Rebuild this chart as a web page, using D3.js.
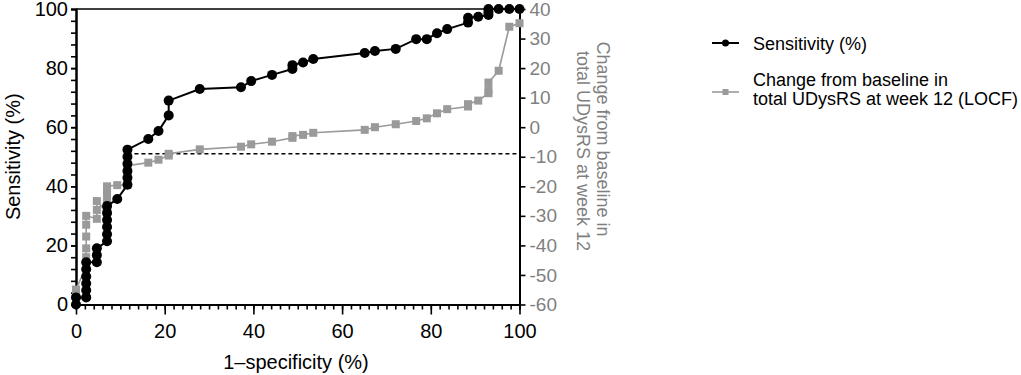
<!DOCTYPE html>
<html>
<head>
<meta charset="utf-8">
<script src="https://cdn.jsdelivr.net/npm/d3@7"></script>
<style>
  body { margin: 0; background: #fff; }
  svg { font-family: "Liberation Sans", Arial, sans-serif; }
</style>
</head>
<body>
<svg id="chart" width="1021" height="375"></svg>
<script>
    // ******************** Data ************************
    // 1-specificity (%) for each cut-off
    var fpr = [0, 0,
        2.3, 2.3, 2.3, 2.3, 2.3, 2.3,
        4.7, 4.7, 4.7,
        7.0, 7.0, 7.0, 7.0, 7.0, 7.0,
        9.3,
        11.6, 11.6, 11.6, 11.6, 11.6, 11.6,
        16.3, 18.6, 20.9, 20.9, 27.9, 37.2, 39.5, 44.2, 48.8, 48.8, 51.2, 53.5,
        65.1, 67.4, 72.1, 76.7, 79.1, 81.4, 83.7, 88.4, 88.4, 90.7,
        93.0, 93.0, 93.0, 95.3, 97.7, 100];

    // Sensitivity (%)
    var sensitivity = [0, 2.4,
        2.4, 4.8, 7.1, 9.5, 11.9, 14.3,
        14.3, 16.7, 19.0,
        21.4, 23.8, 26.2, 28.6, 31.0, 33.3,
        35.7,
        40.5, 42.9, 45.2, 47.6, 50.0, 52.4,
        56.0, 58.7, 64.0, 69.0, 72.9, 73.5, 75.6, 77.7, 79.7, 81.0, 81.9, 83.1,
        85.1, 85.8, 86.5, 89.8, 89.8, 91.8, 93.2, 95.4, 97.0, 97.4,
        98.0, 99.0, 100, 100, 100, 100];

    // Change from baseline in total UDysRS at week 12 (LOCF), cut-off value
    var change = [-55, -55,
        -47, -44, -41, -37, -33, -30,
        -31, -28, -25,
        -29, -27, -25, -23, -21.5, -20,
        -19.6,
        -19.5, -18, -17, -16, -14.5, -13,
        -12, -11, -9.6, -9, -7.5, -6.6, -5.8, -4.9, -3.6, -3, -2.6, -1.9,
        -0.9, 0, 1, 2.1, 3, 4.7, 6.1, 7.0, 7.8, 9,
        11.5, 12.5, 15.1, 19.1, 34, 35.2];

    var cutoff = -9; // dashed reference
    var cutoffFrom = 11.6;

    var xTicks = [0, 20, 40, 60, 80, 100];
    var yLeftTicks = [0, 20, 40, 60, 80, 100];
    var yRightTicks = [-60, -50, -40, -30, -20, -10, 0, 10, 20, 30, 40];

    var legendLabels = ["Sensitivity (%)",
        ["Change from baseline in", "total UDysRS at week 12 (LOCF)"]];

    // ******************** Globals ************************
    var pLeft = 76, pRight = 519.5, pTop = 9, pBottom = 304.5;
    var grey = "#9a9a9a", greyText = "#7f7f7f";

    var x = d3.scaleLinear().domain([0, 100]).range([pLeft, pRight]);
    var yL = d3.scaleLinear().domain([0, 100]).range([pBottom, pTop]);
    var yR = d3.scaleLinear().domain([-60, 40]).range([pBottom, pTop]);

    var svg = d3.select("#chart");
    var rows = fpr.map(function (d, i) {
        return { x: d, s: sensitivity[i], c: change[i] };
    });

    function styleAxis(g, col) {
        g.select(".domain").attr("stroke", "#000").attr("stroke-width", 2);
        g.selectAll(".tick line").attr("stroke", "#000").attr("stroke-width", 1.6);
        g.selectAll(".tick text").attr("fill", col || "#000")
            .style("font-family", "Liberation Sans, Arial, sans-serif");
    }

    // top frame line
    svg.append("line")
        .attr("x1", pLeft).attr("x2", pRight)
        .attr("y1", pTop).attr("y2", pTop)
        .attr("stroke", "#000").attr("stroke-width", 1.6);

    // x axis: minor then major
    svg.append("g")
        .attr("transform", "translate(0," + pBottom + ")")
        .call(d3.axisBottom(x).tickValues(d3.range(0, 101, 2)).tickSize(5).tickFormat(""))
        .call(styleAxis);
    svg.append("g")
        .attr("transform", "translate(0," + pBottom + ")")
        .call(d3.axisBottom(x).tickValues(xTicks).tickSize(10).tickPadding(9).tickSizeOuter(0))
        .call(styleAxis)
        .selectAll(".tick text").style("font-size", "20px");

    // left axis
    svg.append("g")
        .attr("transform", "translate(" + pLeft + ",0)")
        .call(d3.axisLeft(yL).tickValues(d3.range(0, 101, 4)).tickSize(5).tickFormat(""))
        .call(styleAxis);
    svg.append("g")
        .attr("transform", "translate(" + pLeft + ",0)")
        .call(d3.axisLeft(yL).tickValues(yLeftTicks).tickSize(5).tickPadding(3).tickSizeOuter(0))
        .call(styleAxis)
        .selectAll(".tick text").style("font-size", "20px");

    // right axis
    svg.append("g")
        .attr("transform", "translate(" + pRight + ",0)")
        .call(d3.axisRight(yR).tickValues(yRightTicks).tickSize(6).tickPadding(4).tickSizeOuter(0)
            .tickFormat(function (d) { return String(d); }))
        .call(function (g) { styleAxis(g, greyText); })
        .selectAll(".tick text").style("font-size", "19px");

    // axis titles
    svg.append("text")
        .attr("transform", "translate(20," + ((pTop + pBottom) / 2) + ") rotate(-90)")
        .attr("text-anchor", "middle")
        .style("font-size", "20px")
        .text("Sensitivity (%)");

    svg.append("text")
        .attr("x", 296).attr("y", 369)
        .attr("text-anchor", "middle")
        .style("font-size", "20px")
        .text("1\u2013specificity (%)");

    svg.append("text")
        .attr("transform", "translate(597,139) rotate(90)")
        .attr("text-anchor", "middle").attr("fill", greyText)
        .style("font-size", "18px")
        .text("Change from baseline in");
    svg.append("text")
        .attr("transform", "translate(577,151) rotate(90)")
        .attr("text-anchor", "middle").attr("fill", greyText)
        .style("font-size", "18px")
        .text("total UDysRS at week 12");

    // dashed reference
    svg.append("line")
        .attr("x1", x(cutoffFrom)).attr("x2", x(100))
        .attr("y1", yR(cutoff)).attr("y2", yR(cutoff))
        .attr("stroke", "#000").attr("stroke-width", 1.6)
        .attr("stroke-dasharray", "4,3");

    // grey series
    svg.append("path")
        .datum(rows)
        .attr("fill", "none").attr("stroke", grey).attr("stroke-width", 1.6)
        .attr("d", d3.line().x(function (d) { return x(d.x); }).y(function (d) { return yR(d.c); }));
    svg.append("g").selectAll("rect")
        .data(rows).enter().append("rect")
        .attr("x", function (d) { return x(d.x) - 4; })
        .attr("y", function (d) { return yR(d.c) - 4; })
        .attr("width", 8).attr("height", 8)
        .attr("fill", grey);

    // black series
    svg.append("path")
        .datum(rows)
        .attr("fill", "none").attr("stroke", "#000").attr("stroke-width", 2)
        .attr("d", d3.line().x(function (d) { return x(d.x); }).y(function (d) { return yL(d.s); }));
    svg.append("g").selectAll("circle")
        .data(rows).enter().append("circle")
        .attr("cx", function (d) { return x(d.x); })
        .attr("cy", function (d) { return yL(d.s); })
        .attr("r", 5)
        .attr("fill", "#000");

    // legend
    var lg = svg.append("g");
    lg.append("line").attr("x1", 712).attr("x2", 739).attr("y1", 43).attr("y2", 43)
        .attr("stroke", "#000").attr("stroke-width", 2);
    lg.append("circle").attr("cx", 725.5).attr("cy", 43).attr("r", 3.5).attr("fill", "#000");
    lg.append("text").attr("x", 753).attr("y", 49.5).style("font-size", "18px").text(legendLabels[0]);

    lg.append("line").attr("x1", 712).attr("x2", 739).attr("y1", 92).attr("y2", 92)
        .attr("stroke", grey).attr("stroke-width", 1.6);
    lg.append("rect").attr("x", 722.5).attr("y", 89).attr("width", 6).attr("height", 6).attr("fill", grey);
    lg.append("text").attr("x", 753).attr("y", 85.5).style("font-size", "18px").text(legendLabels[1][0]);
    lg.append("text").attr("x", 753).attr("y", 105).style("font-size", "18px").text(legendLabels[1][1]);
</script>
</body>
</html>
